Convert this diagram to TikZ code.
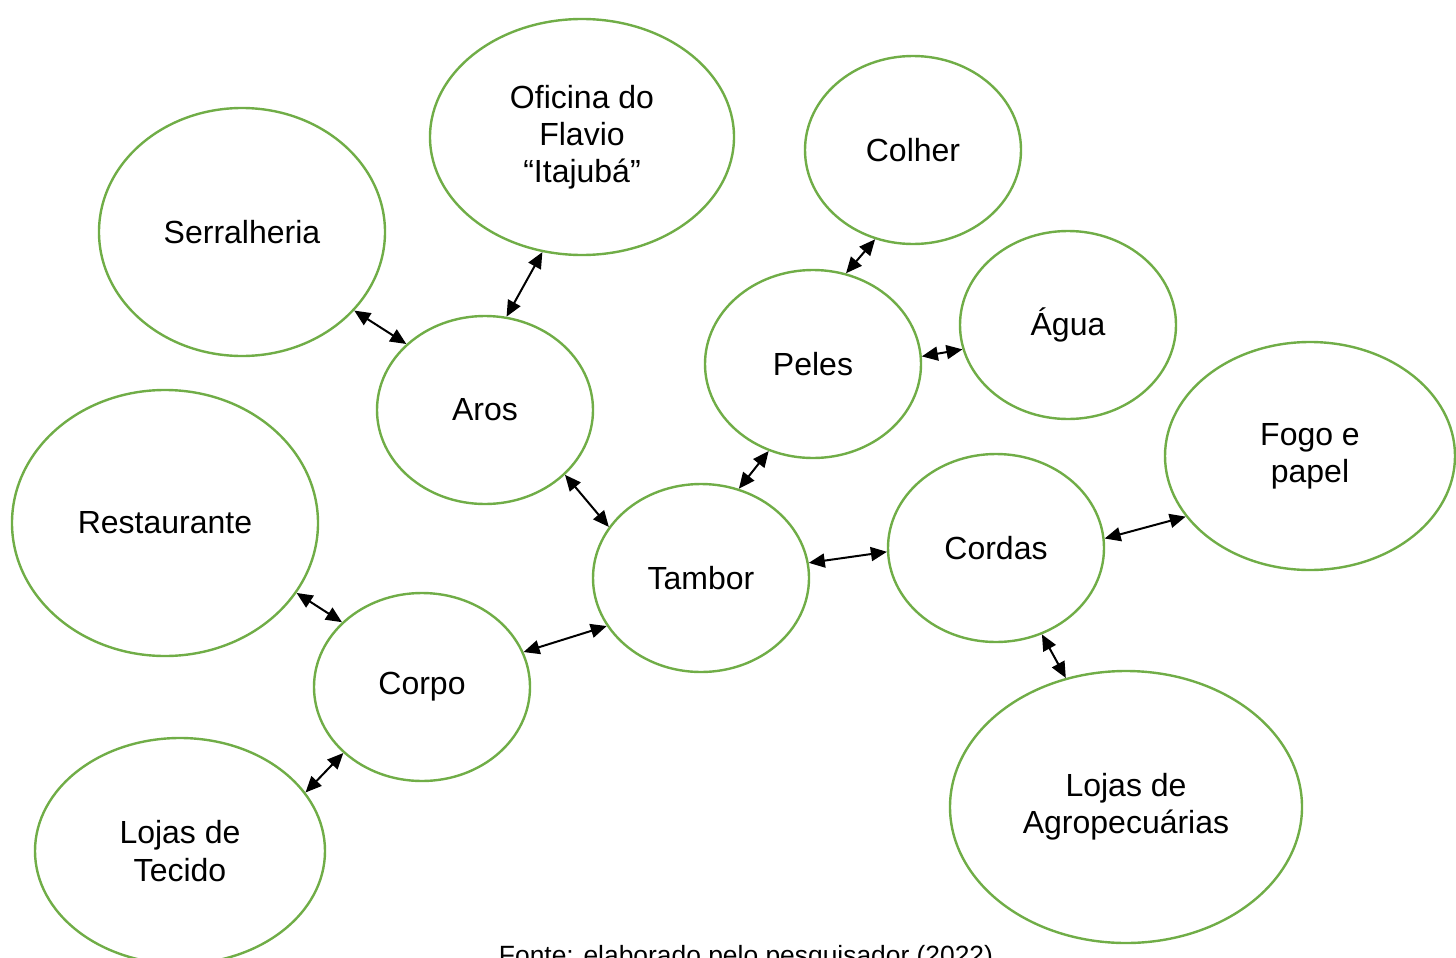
\documentclass[tikz,border=0pt]{standalone}
\usepackage{fontspec}
\setmainfont{Liberation Sans}
\usepackage{xcolor}
\usepackage{tikz}
\usetikzlibrary{shapes.geometric}
\usetikzlibrary{arrows.meta}
\definecolor{folha}{HTML}{70AD47}

\begin{document}
\begin{tikzpicture}[x=0.5pt,y=-0.5pt,{Triangle[length=8pt,width=7pt]}-{Triangle[length=8pt,width=7pt]}]
      \tikzstyle{bubble}=[ellipse,draw=folha,line width=1.2pt,inner sep=0pt,align=center,
                          font=\fontsize{16}{18.6}\selectfont]
      \useasboundingbox (0,0) rectangle (1456,958);
      \node[bubble,minimum width=143pt,minimum height=124pt] (Serr)   at (242,232)  {Serralheria};
      \node[bubble,minimum width=152pt,minimum height=118pt] (Ofic)   at (582,137)  {Oficina do\\Flavio\\“Itajubá”};
      \node[bubble,minimum width=108pt,minimum height=94pt]  (Colher) at (913,150)  {Colher};
      \node[bubble,minimum width=108pt,minimum height=94pt]  (Peles)  at (813,364)  {Peles};
      \node[bubble,minimum width=108pt,minimum height=94pt]  (Agua)   at (1068,325) {Água};
      \node[bubble,minimum width=108pt,minimum height=94pt]  (Aros)   at (485,410)  {Aros};
      \node[bubble,minimum width=153pt,minimum height=133pt] (Rest)   at (165,523)  {Restaurante};
      \node[bubble,minimum width=108pt,minimum height=94pt]  (Tambor) at (701,578)  {Tambor};
      \node[bubble,minimum width=108pt,minimum height=94pt]  (Cordas) at (996,548)  {Cordas};
      \node[bubble,minimum width=145pt,minimum height=114pt] (Fogo)   at (1310,456) {Fogo e\\papel};
      \node[bubble,minimum width=108pt,minimum height=94pt]  (Corpo)  at (422,687)  {Corpo};
      \node[bubble,minimum width=145pt,minimum height=113pt] (Tecido) at (180,851)  {Lojas de\\Tecido};
      \node[bubble,minimum width=176pt,minimum height=136pt] (Agro)   at (1126,807) {Lojas de\\Agropecuárias};

      \node[inner sep=0pt,anchor=north,font=\fontsize{13.2}{15}\selectfont] (Fonte) at (746,945)
            {Fonte: elaborado pelo pesquisador (2022)};

      \path[line width=1pt] (Aros.77)    edge (Ofic.251)
                 (Serr.325)   edge (Aros.140)
                 (Aros.321)   edge (Tambor.151)
                 (Peles.70)   edge (Colher.247)
                 (Peles.4)    edge (Agua.193)
                 (Peles.243)  edge (Tambor.67)
                 (Tambor.8)   edge (Cordas.182)
                 (Cordas.5)   edge (Fogo.206)
                 (Cordas.298) edge (Agro.115)
                 (Tambor.207) edge (Corpo.19)
                 (Rest.332)   edge (Corpo.141)
                 (Corpo.220)  edge (Tecido.25);
    \end{tikzpicture}
\end{document}
